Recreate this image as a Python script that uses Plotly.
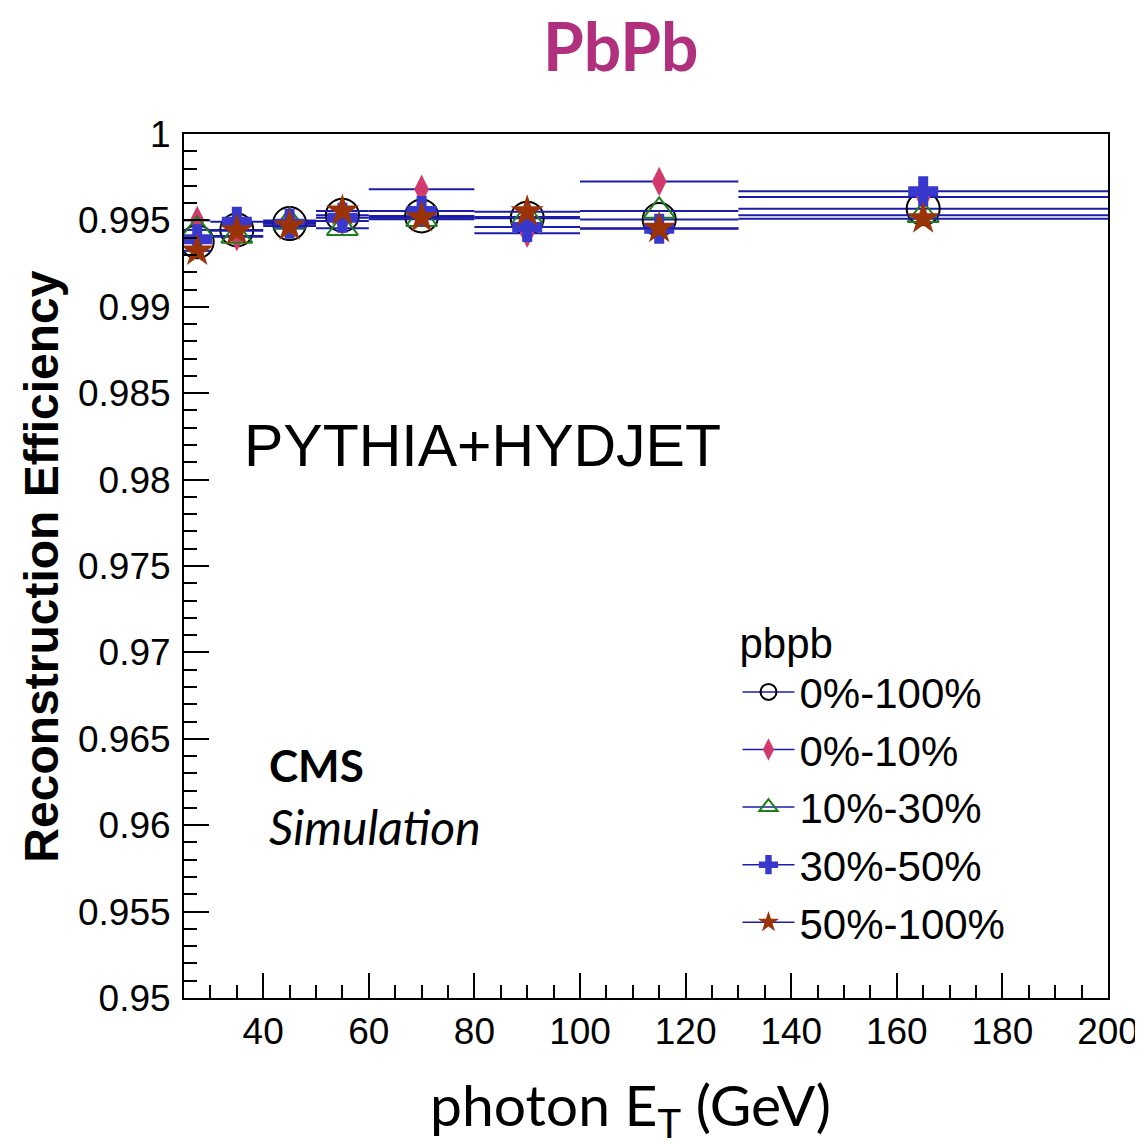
import plotly.graph_objects as go

# ---- data ----
bin_centers = [27.5, 35, 45, 55, 70, 90, 115, 165]
bin_halfwidths = [2.5, 5, 5, 5, 10, 10, 15, 35]

eff_0_100 = [0.99376, 0.99445, 0.99482, 0.99530, 0.99526, 0.99513, 0.99505, 0.99568]
eff_0_10 = [0.99500, 0.99405, 0.99500, 0.99497, 0.99680, 0.99425, 0.99725, 0.99635]
eff_10_30 = [0.99445, 0.99410, 0.99491, 0.99455, 0.99507, 0.99520, 0.99555, 0.99530]
eff_30_50 = [0.99391, 0.99492, 0.99480, 0.99516, 0.99555, 0.99462, 0.99452, 0.99668]
eff_50_100 = [0.99324, 0.99440, 0.99468, 0.99555, 0.99516, 0.99550, 0.99455, 0.99510]

series_names = ["0%-100%", "0%-10%", "10%-30%", "30%-50%", "50%-100%"]
series_values = [eff_0_100, eff_0_10, eff_10_30, eff_30_50, eff_50_100]

y_tickvals = [0.95, 0.955, 0.96, 0.965, 0.97, 0.975, 0.98, 0.985, 0.99, 0.995, 1.0]
y_ticktext = ["0.95", "0.955", "0.96", "0.965", "0.97", "0.975", "0.98", "0.985", "0.99", "0.995", "1"]
x_tickvals = [40, 60, 80, 100, 120, 140, 160, 180, 200]

# ---- styles ----
styles = [
    dict(symbol="circle-open", size=33, color="black", line=dict(color="black", width=2)),
    dict(symbol="diamond-tall", size=21, color="#d33a6c", line=dict(width=0)),
    dict(symbol="triangle-up-open", size=27, color="#1e7e1e", line=dict(color="#1e7e1e", width=2)),
    dict(symbol="cross", size=25, color="#3838cc", line=dict(width=0)),
    dict(symbol="star", size=25, color="#9a3408", line=dict(width=0)),
]
err_color = "#1c1ca8"

fig = go.Figure()
for name, vals, st in zip(series_names, series_values, styles):
    fig.add_trace(go.Scatter(
        x=bin_centers, y=vals, mode="markers", name=name, showlegend=False,
        marker=st,
        error_x=dict(type="data", array=bin_halfwidths, symmetric=True,
                     color=err_color, thickness=2, width=0),
    ))
# legend entries (line + marker)
for name, st in zip(series_names, styles):
    fig.add_trace(go.Scatter(
        x=[None], y=[None], mode="lines+markers", name=name,
        marker=st, line=dict(color=err_color, width=1.5),
    ))

font_main = "Liberation Sans, Arial, Helvetica, sans-serif"
font_cal = "Lato, Open Sans, sans-serif"

fig.update_layout(
    width=1143, height=1144,
    margin=dict(l=176, r=35, t=126, b=154),
    paper_bgcolor="white", plot_bgcolor="white",
    font=dict(family=font_main, color="black"),
    xaxis=dict(
        range=[25, 200], tickvals=x_tickvals, ticks="inside", ticklen=25,
        tickwidth=1.5, tickcolor="black",
        minor=dict(dtick=5, tick0=0, ticks="inside", ticklen=13, tickwidth=1.5, tickcolor="black"),
        showline=True, linecolor="black", linewidth=2, mirror=True,
        showgrid=False, zeroline=False,
        tickfont=dict(size=37, family=font_main),
    ),
    yaxis=dict(
        range=[0.95, 1.0], tickvals=y_tickvals, ticktext=y_ticktext,
        ticks="inside", ticklen=25, tickwidth=1.5, tickcolor="black",
        minor=dict(dtick=0.001, tick0=0.95, ticks="inside", ticklen=13, tickwidth=1.5, tickcolor="black"),
        showline=True, linecolor="black", linewidth=2, mirror=True,
        showgrid=False, zeroline=False, ticklabelstandoff=4,
        tickfont=dict(size=37, family=font_main),
    ),
    legend=dict(
        x=0.599, y=0.4566, xanchor="left", yanchor="top",
        bgcolor="rgba(0,0,0,0)",
        title=dict(text="pbpb", font=dict(size=42, family=font_main)),
        font=dict(size=42, family=font_main),
        itemsizing="trace", itemwidth=52,
    ),
    annotations=[
        dict(text="<b>PbPb</b>", x=(620 - 183) / 925, y=(998 - 44) / 865, xref="paper", yref="paper",
             xanchor="center", yanchor="middle", showarrow=False,
             font=dict(size=66, family=font_cal, color="#b0307e")),
        dict(text="PYTHIA+HYDJET", x=(241 - 183) / 925, y=(998 - 445) / 865, xref="paper", yref="paper",
             xanchor="left", yanchor="middle", showarrow=False,
             font=dict(size=59, family=font_main)),
        dict(text="<b>CMS</b>", x=(266 - 183) / 925, y=(998 - 765) / 865, xref="paper", yref="paper",
             xanchor="left", yanchor="middle", showarrow=False,
             font=dict(size=44, family=font_cal)),
        dict(text="<i>Simulation</i>", x=(266 - 183) / 925, y=(998 - 826) / 865, xref="paper", yref="paper",
             xanchor="left", yanchor="middle", showarrow=False,
             font=dict(size=48, family=font_cal)),
        dict(text="<b>Reconstruction Efficiency</b>", x=(40 - 183) / 925, y=(998 - 566) / 865,
             xref="paper", yref="paper", xanchor="center", yanchor="middle",
             showarrow=False, textangle=-90, font=dict(size=48, family=font_main)),
        dict(text="photon E<sub>T</sub> (GeV)", x=(630 - 183) / 925, y=(998 - 1108) / 865,
             xref="paper", yref="paper", xanchor="center", yanchor="middle", showarrow=False,
             font=dict(size=57, family=font_cal)),
    ],
)

fig.write_html("out.html")
